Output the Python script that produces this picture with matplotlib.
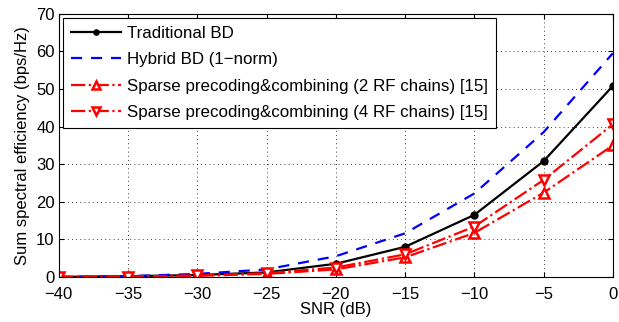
import matplotlib
matplotlib.use("Agg")
import matplotlib.pyplot as plt

snr = [-40, -35, -30, -25, -20, -15, -10, -5, 0]
traditional_bd = [0.0, 0.2, 0.5, 1.2, 3.5, 8.0, 16.5, 30.8, 50.8]
hybrid_bd = [0.0, 0.2, 0.8, 2.0, 5.5, 11.6, 22.2, 38.5, 59.5]
sparse_2rf = [0.0, 0.1, 0.3, 0.8, 2.0, 5.2, 11.7, 22.4, 35.0]
sparse_4rf = [0.0, 0.1, 0.4, 1.0, 2.5, 6.0, 13.4, 25.8, 40.6]

plt.rcParams['font.family'] = ['Liberation Sans', 'DejaVu Sans']
plt.rcParams['font.size'] = 12

fig = plt.figure(figsize=(6.19, 3.22), dpi=100)
ax = fig.add_axes([0.095, 0.140, 0.895, 0.817])

ax.plot(snr, traditional_bd, "k-", marker="o", markersize=5, linewidth=1.6,
        label="Traditional BD")
ax.plot(snr, hybrid_bd, "b--", linewidth=1.6, dashes=(5, 4),
        label="Hybrid BD (1\u2212norm)")
ax.plot(snr, sparse_2rf, color="red", linestyle="-.", marker="^", markersize=7,
        markerfacecolor="white", markeredgewidth=1.8, linewidth=1.6,
        label="Sparse precoding&combining (2 RF chains) [15]")
ax.plot(snr, sparse_4rf, color="red", linestyle="-.", marker="v", markersize=7,
        markerfacecolor="white", markeredgewidth=1.8, linewidth=1.6,
        label="Sparse precoding&combining (4 RF chains) [15]")

ax.set_xlim(-40, 0)
ax.set_ylim(0, 70)
ax.set_xticks(snr)
ax.set_yticks(range(0, 71, 10))
ax.set_xlabel("SNR (dB)", labelpad=0)
ax.set_ylabel("Sum spectral efficiency (bps/Hz)", labelpad=4)
ax.grid(True, linestyle=(0, (1, 4)), color="black", linewidth=0.6)
ax.tick_params(direction="in", top=True, right=True)
ax.tick_params(axis="x", pad=7.5)
ax.tick_params(axis="y", pad=3)

leg = ax.legend(loc="upper left", fancybox=False, framealpha=1,
                edgecolor="black", borderaxespad=0.25, handlelength=3.0,
                handletextpad=0.35, markerscale=0.75, labelspacing=0.68,
                borderpad=0.45, prop={"size": 12.2})
leg.get_frame().set_linewidth(0.8)

fig.savefig("out.png", dpi=100)
